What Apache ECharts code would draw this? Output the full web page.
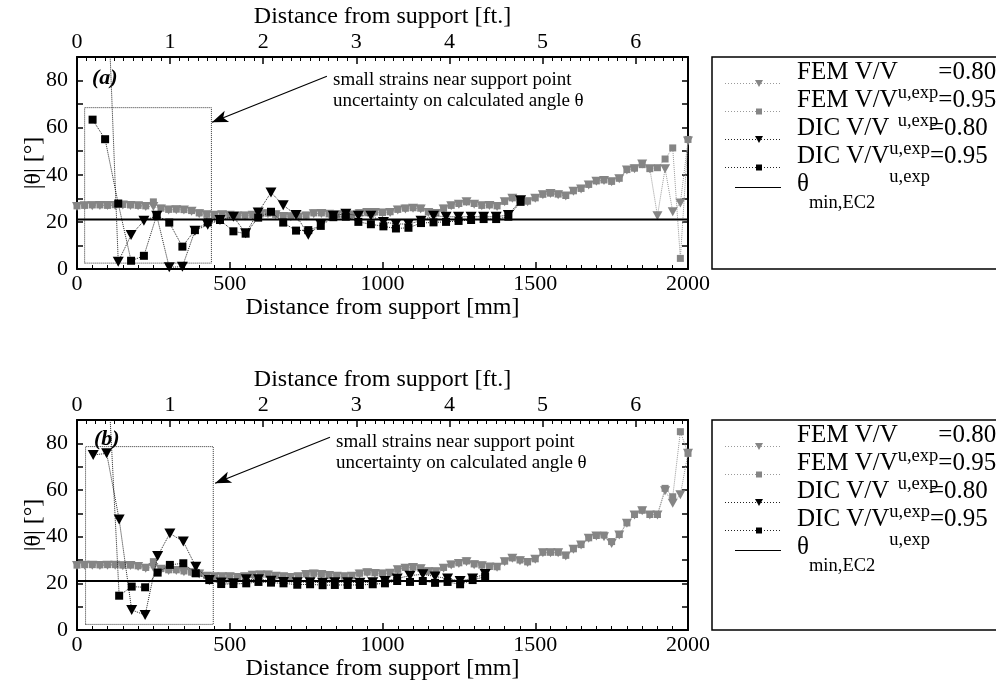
<!DOCTYPE html>
<html><head><meta charset="utf-8">
<script src="https://cdn.jsdelivr.net/npm/echarts@6/dist/echarts.min.js"></script>
<style>html,body{margin:0;padding:0;background:#fff}#c{width:996px;height:691px}</style>
</head><body><div id="c"></div>
<script>
// ---------------- data ----------------
const femX = [0,25,50,75,100,125,150,175,200,225,250,275,300,325,350,375,400,425,450,475,500,525,550,575,600,625,650,675,700,725,750,775,800,825,850,875,900,925,950,975,1000,1025,1050,1075,1100,1125,1150,1175,1200,1225,1250,1275,1300,1325,1350,1375,1400,1425,1450,1475,1500,1525,1550,1575,1600,1625,1650,1675,1700,1725,1750,1775,1800,1825,1850,1875,1900,1925,1950,1975,2000];
const femA80 = [26.5,26.8,26.8,27.0,27.0,27.0,27.2,27.0,26.8,26.5,
 26.5,25.5,25.0,25.2,25.0,24.5,23.5,23.0,22.8,23.0,
 22.8,22.5,22.5,22.8,23.2,23.5,23.0,22.3,22.2,22.0,
 22.5,23.5,23.6,23.2,23.0,22.8,22.9,23.5,24.0,24.0,
 23.8,24.0,25.0,25.5,25.8,25.5,24.0,23.6,25.5,26.8,
 27.5,28.5,27.5,26.8,27.0,26.5,28.5,30.0,29.0,28.5,
 30.0,31.5,32.0,31.5,31.0,33.0,34.0,35.7,37.2,37.6,
 37.0,38.3,42.0,42.6,44.6,42.6,22.6,42.6,24.3,28.0,
 54.3];
const femA95 = [26.8,27.0,27.2,27.2,27.0,27.3,27.4,27.2,27.0,26.8,
 28.5,25.8,25.3,25.4,25.2,24.8,23.8,23.2,23.0,23.2,
 23.0,22.8,22.8,23.0,23.4,23.7,23.2,22.6,22.4,22.3,
 22.8,23.8,23.8,23.4,23.2,23.0,23.1,23.8,24.3,24.2,
 24.0,24.3,25.3,25.8,26.0,25.8,24.3,23.9,25.8,27.0,
 27.8,28.5,27.8,27.0,27.2,26.8,28.7,30.2,29.3,28.8,
 30.2,31.7,32.2,31.8,31.2,33.2,34.2,35.9,37.4,37.8,
 37.2,38.5,42.2,42.8,44.3,42.6,43.0,46.7,51.4,4.5,
 55.0];
const femB80 = [27.6,27.8,27.8,27.6,27.8,27.8,27.5,27.6,27.2,26.5,
 26.8,26.0,25.5,25.5,25.0,24.5,24.0,23.0,22.8,22.8,
 22.8,22.5,22.8,23.5,23.6,23.6,23.0,22.8,22.5,22.8,
 23.8,24.0,23.8,23.4,23.0,22.8,23.0,24.0,24.5,24.2,
 24.0,24.3,25.8,26.5,26.8,26.2,25.0,25.0,26.5,27.9,
 28.5,29.3,28.0,27.5,27.0,26.9,29.3,30.7,29.7,28.9,
 30.3,33.1,33.1,33.1,31.7,34.6,36.4,39.3,40.3,40.0,
 37.1,40.7,45.7,49.3,51.1,49.3,49.3,59.7,54.3,58.0,
 75.7];
const femB95 = [27.8,28.0,28.0,27.9,28.0,28.0,27.8,27.8,27.5,26.8,
 29.3,26.3,25.8,25.8,25.3,24.8,24.3,23.3,23.0,23.0,
 23.0,22.8,23.0,23.8,23.9,23.9,23.3,23.0,22.8,23.0,
 24.0,24.3,24.0,23.6,23.3,23.0,23.2,24.3,24.8,24.5,
 24.3,24.6,26.0,26.8,27.0,26.5,25.3,25.2,26.8,28.2,
 28.8,29.6,28.3,27.8,27.2,27.1,29.5,30.9,30.0,29.2,
 30.5,33.3,33.3,33.3,32.0,34.8,36.6,39.5,40.5,40.7,
 37.9,40.9,45.9,49.5,51.3,49.5,49.5,60.7,57.1,85.0,
 75.7];

const dicXA = [51,92,135,177,219,261,302,345,386,428,468,512,552,593,635,675,717,757,798,839,880,921,962,1003,1044,1085,1126,1167,1208,1249,1290,1331,1372,1412,1452];
const dicA80 = [null,145,3.1,14.4,20.5,22.6,0.7,1.0,16.2,18.8,20.8,22.2,15.2,24.0,32.5,27.1,22.9,14.5,18.9,22.6,23.5,22.6,22.6,20.0,19.1,19.1,20.5,22.6,22.2,22.2,22.2,22.2,22.2,22.9,29.2];
const dicA95 = [63.4,55.1,27.8,3.5,5.6,22.9,19.7,9.5,16.5,19.8,20.8,16.0,15.0,21.8,24.3,19.7,16.3,16.5,18.3,22.0,22.2,20.0,19.0,18.1,17.2,17.5,19.5,19.8,20.0,20.4,20.8,21.2,21.2,22.2,28.5];

const dicXB = [53,97,138,179,223,264,304,348,389,433,472,512,554,594,635,676,721,763,804,844,886,926,968,1008,1048,1090,1132,1172,1213,1254,1295,1336];
const dicB80 = [75.0,75.7,47.4,8.6,6.4,31.7,41.4,37.9,27.1,21.4,20.4,20.0,21.7,21.7,21.1,20.6,20.5,20.5,20.3,20.5,20.5,20.3,20.5,21.0,22.1,23.3,23.9,22.9,22.1,21.0,22.1,24.0];
const dicB95 = [null,120,14.7,18.6,18.3,24.6,27.9,28.6,24.3,21.4,19.7,19.7,20.0,20.6,20.3,20.0,19.4,19.6,19.2,19.3,19.3,19.3,19.6,20.0,21.0,20.6,21.0,20.2,20.6,19.6,21.4,22.9];

const thetaMin = 21;
const xRangeMm = [0, 2000];
const mmPerFt = 304.8;
const boxA = [[25, 2.5], [440, 68.5]];
const boxB = [[28, 2.4], [446, 78.6]];
const arrowA = [[818, 81.8], [442, 62.3]];
const arrowB = [[828, 82.6], [452, 62.9]];
const noteLines = ['small strains near support point', 'uncertainty on calculated angle θ'];
const panelLabels = ['(a)', '(b)'];
const legendMain = ['FEM V/V', 'FEM V/V', 'DIC V/V', 'DIC V/V', 'θ'];
const legendSub = ['u,exp', 'u,exp', 'u,exp', 'u,exp', 'min,EC2'];
const legendTail = ['=0.80', '=0.95', '=0.80', '=0.95', ''];

// ---------------- chart ----------------
const FF = '"Liberation Serif","Times New Roman",serif';
const TRI = 'path://M0,0L10,0L5,9Z';
const GRAY = '#858585', GRAYLINE = '#9a9a9a';
const grids = [{left:77, top:57, width:611, height:212}, {left:77, top:420, width:611, height:210}];

function pairs(xs, ys){ const out=[]; xs.forEach((x,i)=>{ if(ys[i]!==null) out.push([x, ys[i]]); }); return out; }

const axisLineStyle = {color:'#000', width:2};
const xAxes = [], yAxes = [], series = [], graphics = [];
[0,1].forEach(g => {
  xAxes.push({gridIndex:g, type:'value', min:xRangeMm[0], max:xRangeMm[1], interval:500, position:'bottom',
    axisLine:{show:true, onZero:false, lineStyle:axisLineStyle},
    axisTick:{show:true, inside:true, length:7, lineStyle:{color:'#000', width:1.5}},
    minorTick:{show:true, splitNumber:10, length:4, lineStyle:{color:'#000', width:1}},
    splitLine:{show:false}, minorSplitLine:{show:false},
    axisLabel:{color:'#000', fontSize:22, fontFamily:FF, margin:4, formatter: v => String(v)},
    name:'Distance from support [mm]', nameLocation:'middle', nameGap:27, nameMoveOverlap:false,
    nameTextStyle:{color:'#000', fontSize:24, fontFamily:FF}});
  xAxes.push({gridIndex:g, type:'value', min:0, max:xRangeMm[1]/mmPerFt, interval:1, position:'top',
    axisLine:{show:true, onZero:false, lineStyle:axisLineStyle},
    axisTick:{show:true, inside:true, length:7, lineStyle:{color:'#000', width:1.5}},
    minorTick:{show:true, splitNumber:10, length:4, lineStyle:{color:'#000', width:1}},
    splitLine:{show:false}, minorSplitLine:{show:false},
    axisLabel:{color:'#000', fontSize:22, fontFamily:FF, margin:4, showMaxLabel:false,
      formatter: v => Number.isInteger(v) ? String(v) : ''},
    name:'Distance from support [ft.]', nameLocation:'middle', nameGap:28, nameMoveOverlap:false,
    nameTextStyle:{color:'#000', fontSize:24, fontFamily:FF}});
  yAxes.push({gridIndex:g, type:'value', min:0, max:90, interval:10, position:'left',
    axisLine:{show:true, onZero:false, lineStyle:axisLineStyle},
    axisTick:{show:true, inside:true, length:6, lineStyle:{color:'#000', width:1.5}},
    splitLine:{show:false},
    axisLabel:{color:'#000', fontSize:22, fontFamily:FF, margin:9,
      formatter: v => (v % 20 === 0 && v < 90) ? String(v) : ''},
    name:'|θ| [°]', nameLocation:'middle', nameGap:31, nameRotate:90, nameMoveOverlap:false,
    nameTextStyle:{color:'#000', fontSize:24, fontFamily:FF}});
  yAxes.push({gridIndex:g, type:'value', min:0, max:90, interval:10, position:'right',
    axisLine:{show:true, onZero:false, lineStyle:axisLineStyle},
    axisTick:{show:true, inside:true, length:6, lineStyle:{color:'#000', width:1.5}},
    splitLine:{show:false}, axisLabel:{show:false}});

  const xi = 2*g, yi = 2*g;
  const f80 = g ? femB80 : femA80, f95 = g ? femB95 : femA95;
  const dx = g ? dicXB : dicXA, d80 = g ? dicB80 : dicA80, d95 = g ? dicB95 : dicA95;
  const box = g ? boxB : boxA, arr = g ? arrowB : arrowA;
  series.push({name:'FEM 0.80', type:'line', xAxisIndex:xi, yAxisIndex:yi, data:pairs(femX,f80),
    symbol:TRI, symbolSize:[10,9], itemStyle:{color:GRAY},
    lineStyle:{color:GRAYLINE, width:1, type:'dotted'}, z:2});
  series.push({name:'FEM 0.95', type:'line', xAxisIndex:xi, yAxisIndex:yi, data:pairs(femX,f95),
    symbol:'rect', symbolSize:7, itemStyle:{color:GRAY},
    lineStyle:{color:GRAYLINE, width:1, type:'dotted'}, z:2});
  series.push({name:'DIC 0.80', type:'line', xAxisIndex:xi, yAxisIndex:yi, data:pairs(dx,d80),
    symbol:TRI, symbolSize:[11,10], itemStyle:{color:'#000'},
    lineStyle:{color:'#222', width:1, type:'dotted'}, z:3});
  series.push({name:'DIC 0.95', type:'line', xAxisIndex:xi, yAxisIndex:yi, data:pairs(dx,d95),
    symbol:'rect', symbolSize:8, itemStyle:{color:'#000'},
    lineStyle:{color:'#222', width:1, type:'dotted'}, z:3});
  series.push({name:'θmin,EC2', type:'line', xAxisIndex:xi, yAxisIndex:yi,
    data:[[xRangeMm[0], thetaMin],[xRangeMm[1], thetaMin]],
    symbol:'none', itemStyle:{color:'#000'},
    lineStyle:{color:'#000', width:2, type:'solid'}, z:4,
    markArea:{silent:true, itemStyle:{color:'rgba(0,0,0,0)', borderColor:'#333', borderWidth:1, borderType:'dotted'},
      data:[[{coord:box[0]},{coord:box[1]}]]},
    markLine:{silent:true, symbol:['none','arrow'], symbolSize:[9,16], label:{show:false},
      lineStyle:{color:'#000', width:1.2, type:'solid'},
      data:[[{coord:arr[0]},{coord:arr[1]}]]}});

  // legend box (drawn)
  const top = grids[g].top;
  graphics.push({type:'rect', silent:true, shape:{x:712, y:top, width:300, height:grids[g].height},
    style:{fill:'none', stroke:'#000', lineWidth:1.5}});
  const colors = [GRAY, GRAY, '#000', '#000', '#000'];
  const lcolors = [GRAYLINE, GRAYLINE, '#222', '#222', '#000'];
  for (let i = 0; i < 5; i++) {
    const ty = top + 15 + 28 * i;           // main text centre
    const isTheta = i === 4;
    const iy = (isTheta ? ty + 3 : ty + 11) + 0.5;   // icon centre
    graphics.push({type:'line', silent:true, shape:{x1: isTheta ? 735 : 725, y1:iy, x2:781, y2:iy},
      style:{stroke:lcolors[i], lineWidth:1, lineDash: isTheta ? null : [1,2]}});
    if (i === 0 || i === 2) {
      graphics.push({type:'polygon', silent:true,
        shape:{points:[[755, iy-3.5],[763, iy-3.5],[759, iy+3.5]]}, style:{fill:colors[i]}});
    } else if (i === 1 || i === 3) {
      graphics.push({type:'rect', silent:true, shape:{x:756, y:iy-3, width:6, height:6}, style:{fill:colors[i]}});
    }
    graphics.push({type:'text', silent:true, x:797, y:ty,
      style:{text:'{a|' + legendMain[i] + '}{s|' + legendSub[i] + '}' + (legendTail[i] ? '{a|' + legendTail[i] + '}' : ''),
        verticalAlign:'middle', fill:'#000',
        rich:{a:{fontFamily:FF, fontSize:25, fill:'#000'},
              s:{fontFamily:FF, fontSize:18.5, fill:'#000', padding:[isTheta ? 38 : 43, 0, 0, 0]}}}});
  }
});

[[333, 70, 92, 67], [336, 432, 94, 428]].forEach((p, i) => {
  graphics.push({type:'text', left:p[0], top:p[1], silent:true,
    style:{text:noteLines.join('\n'), font:'19px ' + FF, lineHeight:21, fill:'#000'}});
  graphics.push({type:'text', left:p[2], top:p[3], silent:true,
    style:{text:panelLabels[i], font:'italic bold 22px ' + FF, fill:'#000'}});
});

const chart = echarts.init(document.getElementById('c'), null, {renderer:'canvas'});
chart.setOption({
  animation:false, backgroundColor:'#fff',
  grid:grids, xAxis:xAxes, yAxis:yAxes, series:series, graphic:graphics
});
</script></body></html>
